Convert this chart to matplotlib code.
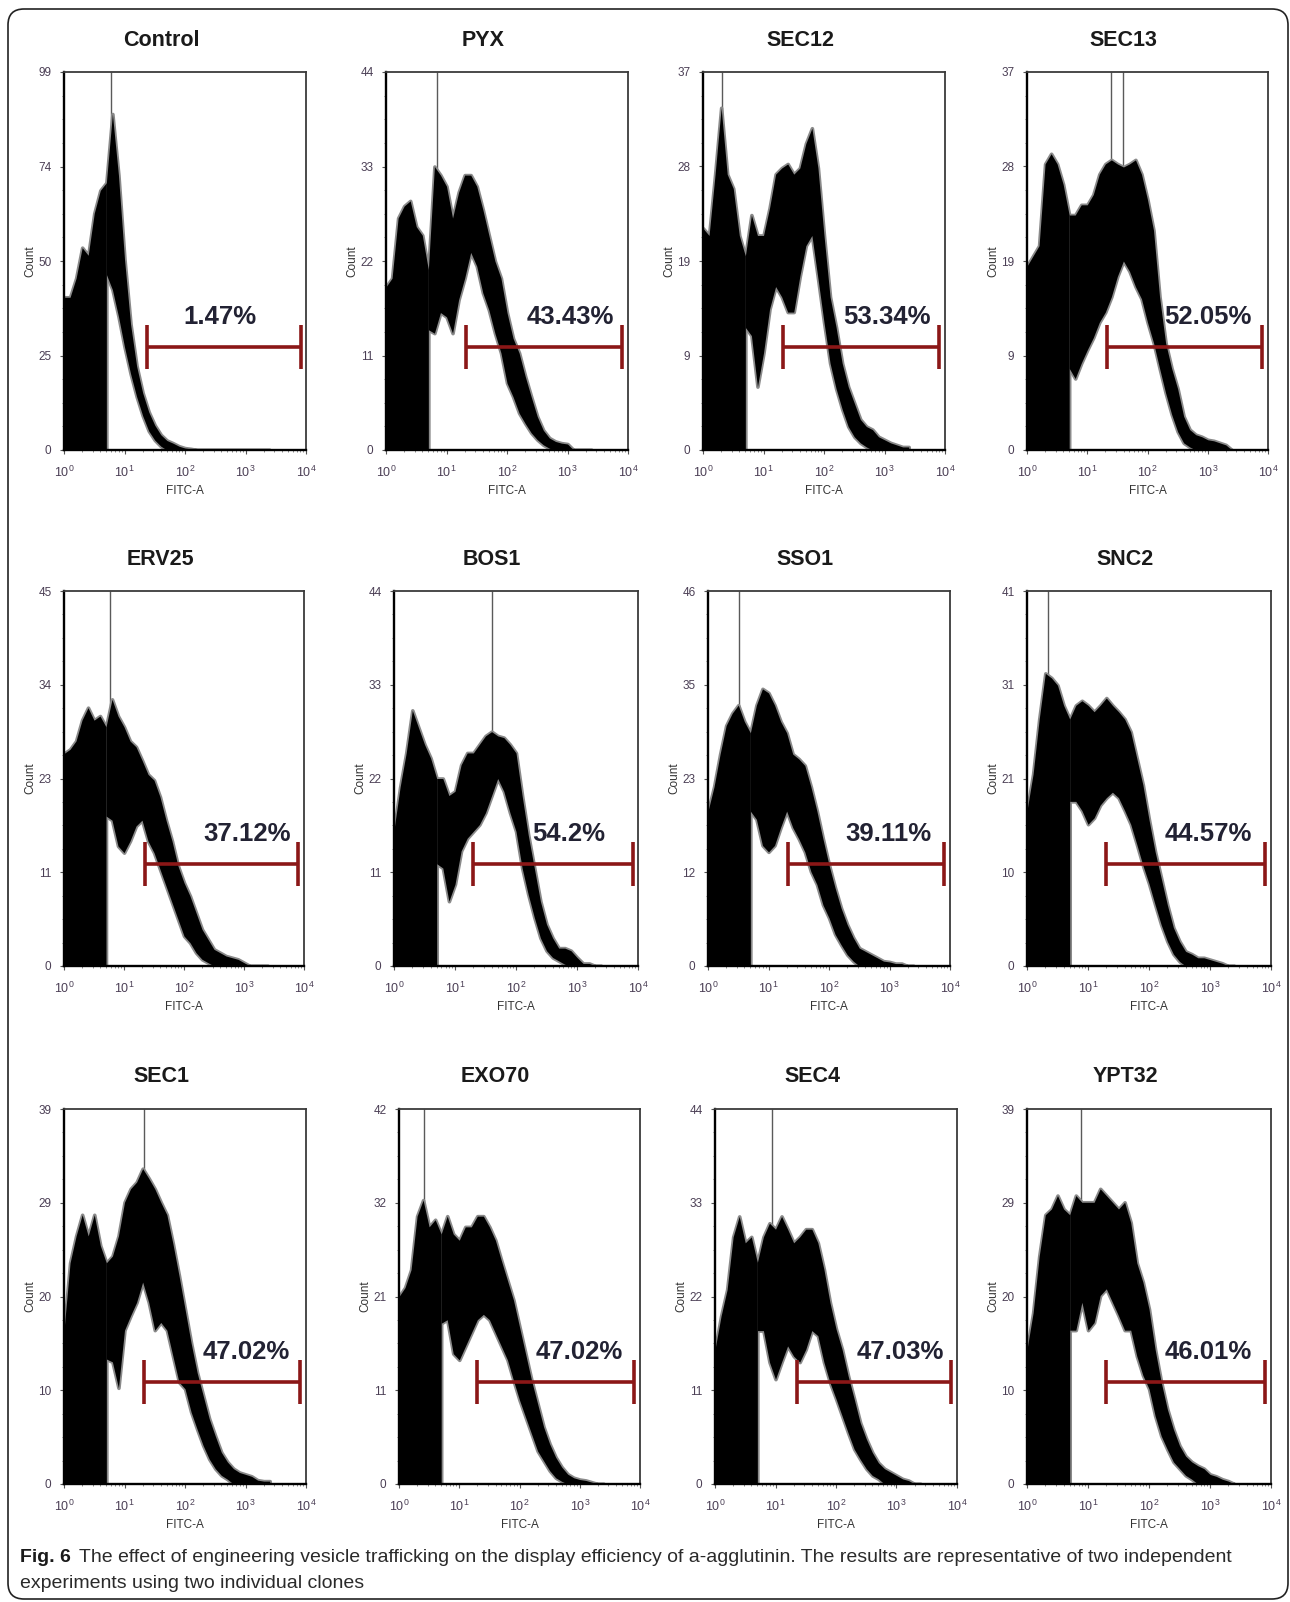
import numpy as np
import matplotlib
matplotlib.use("Agg")
import matplotlib.pyplot as plt
from matplotlib.patches import FancyBboxPatch
from matplotlib.ticker import LogLocator, AutoMinorLocator, FixedLocator, FixedFormatter

plt.rcParams['font.family'] = ['Liberation Sans', 'DejaVu Sans']
plt.rcParams['mathtext.default'] = 'regular'

# log10(FITC-A) grid the envelopes were read on
logx = np.arange(0, 35) / 10.0

names = ['Control', 'PYX', 'SEC12', 'SEC13',
         'ERV25', 'BOS1', 'SSO1', 'SNC2',
         'SEC1', 'EXO70', 'SEC4', 'YPT32']
pcts = ['1.47%', '43.43%', '53.34%', '52.05%',
        '37.12%', '54.2%', '39.11%', '44.57%',
        '47.02%', '47.02%', '47.03%', '46.01%']
ymax = [99, 44, 37, 37, 45, 44, 46, 41, 39, 42, 44, 39]
yticklabels = [['0', '25', '50', '74', '99'],
               ['0', '11', '22', '33', '44'],
               ['0', '9', '19', '28', '37'],
               ['0', '9', '19', '28', '37'],
               ['0', '11', '23', '34', '45'],
               ['0', '11', '22', '33', '44'],
               ['0', '12', '23', '35', '46'],
               ['0', '10', '21', '31', '41'],
               ['0', '10', '20', '29', '39'],
               ['0', '11', '21', '32', '42'],
               ['0', '11', '22', '33', '44'],
               ['0', '10', '20', '29', '39']]
# channel of the single tallest bin(s), log10
peak_log = [[0.78], [0.85], [0.32], [1.40, 1.60],
            [0.76], [1.60], [0.51], [0.34],
            [1.32], [0.42], [0.94], [0.89]]
gate_lo = [1.37, 1.33, 1.32, 1.32, 1.35, 1.29, 1.33, 1.30, 1.33, 1.30, 1.35, 1.30]
gate_hi = [3.92, 3.90, 3.90, 3.90, 3.90, 3.92, 3.90, 3.90, 3.90, 3.90, 3.90, 3.90]

# upper / lower edge of the black histogram trace (counts)
hi = {
    'Control': [40, 40, 45, 53, 51, 62, 68, 70, 88, 72, 50, 33, 22, 15, 10, 6.5, 4, 2.5, 1.8, 1,
                0.5, 0.3, 0, 0, 0, 0, 0, 0, 0, 0, 0, 0, 0, 0, 0],
    'PYX': [19, 20, 27, 28.4, 29, 26, 25, 21, 33, 32, 30.7, 27, 30, 32, 32, 30.7, 28, 25, 22, 20,
            16, 13, 11.3, 8.6, 6.2, 3.9, 2.3, 1.4, 1, 0.8, 0.7, 0, 0, 0, 0],
    'SEC12': [21.7, 21, 27, 33.5, 27, 25.6, 21, 19, 23, 21, 21, 23.7, 27, 27.6, 28, 27, 27.6, 30, 31.5, 27.6,
              21, 15, 12, 8.5, 6.2, 4.6, 3, 2.3, 2, 1.3, 1, 0.7, 0.5, 0.3, 0.3],
    'SEC13': [18, 19, 20, 28, 29, 28, 26, 23, 23, 24, 24, 25, 27, 28, 28.4, 28, 27.7, 28, 28.4, 27,
              24.5, 21.5, 15, 10.5, 8, 6, 3.3, 2, 1.5, 1.3, 1, 0.9, 0.7, 0.5, 0],
    'ERV25': [25.5, 26, 27, 29.5, 31, 29.5, 30, 28.7, 32, 30, 28.7, 27, 26.3, 24.7, 23, 22.3, 20.3, 17.5, 15, 12,
              10, 8.4, 6.4, 4.4, 3.2, 2, 1.6, 1.2, 1, 0.8, 0.4, 0, 0, 0, 0],
    'BOS1': [16, 21, 25, 30, 28, 26, 24.4, 22, 22, 20, 20.5, 23.6, 25, 25, 26, 27, 27.5, 27, 26.8, 26,
             25, 20, 15.4, 11.5, 7.6, 4.9, 3.3, 2.1, 2.1, 1.8, 1, 0.3, 0.3, 0, 0],
    'SSO1': [19, 22, 26, 29.5, 31, 32, 30, 28.6, 32, 34, 33.5, 32, 30, 28.6, 26, 25.4, 24.6, 22, 19, 15.6,
             12.4, 9.6, 7.1, 5.1, 3.5, 2.2, 1.8, 1.4, 1, 0.6, 0.5, 0.3, 0.3, 0, 0],
    'SNC2': [17, 21, 27, 32, 31.5, 30.7, 28.5, 27, 28.5, 29, 28.5, 27.8, 28.5, 29.3, 28.5, 27.8, 27, 25.6, 22.7, 19.8,
             16, 12.5, 9.6, 6.7, 4.2, 2.7, 1.6, 1.3, 0.9, 0.9, 0.7, 0.5, 0.3, 0, 0],
    'SEC1': [16, 23, 25.8, 28, 25.8, 28, 24.8, 23, 23.7, 25.8, 29.3, 30.7, 31.4, 32.8, 31.8, 30.7, 29.3, 28, 25, 21.7,
             18.2, 14.7, 11.6, 9.2, 6.8, 5, 3.3, 2.3, 1.6, 1.2, 1, 0.8, 0.4, 0.3, 0.3],
    'EXO70': [21, 22, 24, 30, 31.8, 28.8, 29.6, 28, 30, 28, 27.3, 28.8, 28.8, 30, 30, 28.8, 27.3, 25, 22.8, 20.6,
              17.6, 14.6, 11.6, 9, 6.4, 4.5, 3, 1.9, 1.1, 0.7, 0.5, 0.4, 0.2, 0, 0],
    'SEC4': [15.8, 19.7, 22.8, 29, 31.4, 28.3, 29, 26, 29, 30.6, 29.9, 31.4, 29.9, 28.3, 29, 29.9, 29.9, 28.3, 25.2, 21.3,
             18.2, 15.8, 12.7, 10, 7.2, 5.3, 3.7, 2.5, 1.8, 1.4, 1, 0.6, 0.4, 0, 0],
    'YPT32': [14, 17.8, 23.7, 28, 28.6, 30, 28.6, 28, 30, 29.3, 29.3, 29.3, 30.7, 30, 29.3, 28.6, 29.3, 27.2, 23, 21,
              18.2, 14, 10.6, 7.8, 5.7, 4, 2.9, 2.3, 1.9, 1.6, 1, 0.8, 0.5, 0.3, 0],
}
lo = {
    'Control': [0, 0, 0, 0, 0, 0, 0, 46, 42, 35, 27, 20, 14, 9, 5, 2.6, 1, 0, 0, 0,
                0, 0, 0, 0, 0, 0, 0, 0, 0, 0, 0, 0, 0, 0, 0],
    'PYX': [0, 0, 0, 0, 0, 0, 0, 14, 13.6, 16, 15.5, 13.6, 17.5, 20, 23, 21.4, 18.3, 16.3, 13.6, 11.3,
            7.8, 6.2, 4.3, 3.1, 2, 1.2, 0.6, 0.2, 0, 0, 0, 0, 0, 0, 0],
    'SEC12': [0, 0, 0, 0, 0, 0, 0, 12, 11.2, 6.2, 9.5, 13.8, 16, 15, 13.5, 13.5, 17, 20, 21, 16.8,
              12.5, 8.5, 6, 4, 2.3, 1.3, 0.7, 0.3, 0, 0, 0, 0, 0, 0, 0],
    'SEC13': [0, 0, 0, 0, 0, 0, 0, 8, 7, 8.5, 9.8, 11, 12.5, 13.5, 15, 17, 18.5, 17.5, 16, 14.8,
              12.5, 10.5, 8, 5.6, 3.5, 1.8, 0.7, 0.3, 0, 0, 0, 0, 0, 0, 0],
    'ERV25': [0, 0, 0, 0, 0, 0, 0, 18, 17.5, 14.4, 13.6, 15, 16.8, 17.5, 15, 13.6, 11.6, 9.6, 7.6, 5.6,
              3.6, 2.8, 1.6, 0.8, 0.4, 0, 0, 0, 0, 0, 0, 0, 0, 0, 0],
    'BOS1': [0, 0, 0, 0, 0, 0, 0, 12, 11.5, 7.6, 9.6, 13.5, 15, 15.8, 16.6, 18, 20, 22, 20.5, 18,
             15.8, 11.5, 8.4, 5.7, 3.3, 1.8, 1, 0.6, 0.2, 0, 0, 0, 0, 0, 0],
    'SSO1': [0, 0, 0, 0, 0, 0, 0, 19, 18, 14.8, 14, 14.8, 17, 19, 17, 15.6, 14, 11.6, 10, 7.5,
             5.9, 3.9, 2.6, 1.4, 0.6, 0, 0, 0, 0, 0, 0, 0, 0, 0, 0],
    'SNC2': [0, 0, 0, 0, 0, 0, 0, 18, 18, 17, 15.5, 16.2, 17.6, 18.4, 19, 18.4, 17, 15.5, 13.3, 11,
             9, 6.7, 4.5, 2.7, 1.3, 0.5, 0, 0, 0, 0, 0, 0, 0, 0, 0],
    'SEC1': [0, 0, 0, 0, 0, 0, 0, 13, 12.7, 10, 16, 17.5, 18.9, 21, 18.9, 16, 16.8, 16, 13.3, 10.6,
             9.9, 7.5, 5.7, 4, 2.6, 1.6, 0.9, 0.5, 0, 0, 0, 0, 0, 0, 0],
    'EXO70': [0, 0, 0, 0, 0, 0, 0, 18, 18.4, 14.6, 13.9, 15.4, 16.9, 18.4, 19, 18.4, 16.9, 15.4, 13.9, 11.6,
              9.4, 7.5, 5.6, 3.7, 2.6, 1.5, 0.7, 0.3, 0, 0, 0, 0, 0, 0, 0],
    'SEC4': [0, 0, 0, 0, 0, 0, 0, 18, 18, 14.3, 12.3, 14.3, 16.2, 15, 14.3, 15.8, 18, 17.4, 14.3, 11.9,
             10, 8, 6, 4.1, 2.9, 1.8, 1, 0.6, 0, 0, 0, 0, 0, 0, 0],
    'YPT32': [0, 0, 0, 0, 0, 0, 0, 16, 16, 18.9, 16, 16.8, 19.6, 20.3, 18.9, 17.5, 16, 16, 13.3, 11.3,
              9.9, 7.1, 5, 3.6, 2.3, 1.6, 0.9, 0.5, 0, 0, 0, 0, 0, 0, 0],
}

# layout (pixels of the 1290x1602 figure)
W, H = 1290, 1602
rows_y = [(72, 450), (591, 966), (1109, 1484)]
cols_x = [[(64, 306), (386, 628), (703, 945), (1027, 1268)],
          [(64, 304), (394, 638), (708, 950), (1027, 1271)],
          [(64, 306), (399, 640), (715, 957), (1027, 1271)]]
title_y = [41, 559, 1076]
pct_x = [2.57, 3.04, 3.04, 3.0, 3.06, 2.86, 2.99, 2.97, 3.02, 3.0, 3.07, 2.97]
tick_col = '#4b3f55'

fig = plt.figure(figsize=(W / 100, H / 100), dpi=100)

fig.patches.append(FancyBboxPatch((0.08, 0.03), 12.80, 15.90,
                                  boxstyle='round,pad=0,rounding_size=0.16',
                                  transform=fig.dpi_scale_trans, fill=False,
                                  edgecolor='#222222', linewidth=1.2))

x = 10 ** logx
solid = logx <= 0.7 + 1e-9
band = logx >= 0.7 - 1e-9

for i, name in enumerate(names):
    r, c = divmod(i, 4)
    x0, x1 = cols_x[r][c]
    y0, y1 = rows_y[r]
    ax = fig.add_axes([x0 / W, 1 - y1 / H, (x1 - x0) / W, (y1 - y0) / H])
    h = np.array(hi[name], dtype=float)
    l = np.array(lo[name], dtype=float)
    # grey fringe first, then the black trace on top
    ax.fill_between(x[solid], 0, h[solid], color='#808080', lw=2.6, edgecolor='#8a8a8a')
    ax.fill_between(x[band], l[band], h[band], color='#808080', lw=2.6, edgecolor='#8a8a8a')
    ax.fill_between(x[solid], 0, h[solid], color='black', lw=0)
    ax.fill_between(x[band], l[band], h[band], color='black', lw=0)
    for p in peak_log[i]:
        base = np.interp(p, logx, l)
        ax.vlines(10 ** p, base, ymax[i], color='#5a5a5a', lw=1.0, zorder=0.9)

    ax.set_xscale('log')
    ax.set_xlim(1, 1e4)
    ax.set_ylim(0, ymax[i])

    # gate
    g0, g1 = 10 ** gate_lo[i], 10 ** gate_hi[i]
    tr = ax.get_xaxis_transform()
    ax.plot([g0, g1], [0.272, 0.272], color='#8b1717', lw=2.6, transform=tr, solid_capstyle='butt')
    for g in (g0, g1):
        ax.plot([g, g], [0.214, 0.33], color='#8b1717', lw=2.6, transform=tr, solid_capstyle='butt')
    ax.text(10 ** pct_x[i], 0.352, pcts[i], transform=tr, ha='center', va='center',
            fontsize=18.5, fontweight='bold', color='#222233')

    ax.yaxis.set_major_locator(FixedLocator([ymax[i] * k / 4 for k in range(5)]))
    ax.yaxis.set_major_formatter(FixedFormatter(yticklabels[i]))
    ax.yaxis.set_minor_locator(AutoMinorLocator(4))
    ax.xaxis.set_major_locator(LogLocator(base=10, numticks=6))
    ax.xaxis.set_minor_locator(LogLocator(base=10, subs=np.arange(2, 10), numticks=20))
    ax.tick_params(axis='both', which='major', direction='out', length=3, width=0.8,
                   labelsize=9, labelcolor=tick_col, color='#555555')
    ax.tick_params(axis='both', which='minor', direction='out', length=1.5, width=0.6, color='#777777')
    ax.tick_params(axis='x', which='major', pad=8)
    ax.tick_params(axis='y', which='major', labelsize=8.5, pad=6)

    for s in ('left', 'bottom'):
        ax.spines[s].set_linewidth(1.7)
        ax.spines[s].set_color('black')
    for s in ('top', 'right'):
        ax.spines[s].set_linewidth(1.3)
        ax.spines[s].set_color('#3a3a3a')

    ax.set_xlabel('FITC-A', fontsize=8.5, color='#333333', labelpad=3)
    ax.set_ylabel('Count', fontsize=8.5, color='#333333')
    ax.yaxis.set_label_coords(-28 / (x1 - x0), 0.5)

    fig.text(((x0 + x1) / 2 - 24) / W, 1 - title_y[r] / H, name, ha='center', va='center',
             fontsize=15.5, fontweight='bold', color='#1a1a1a')

# caption
fig.canvas.draw()
rend = fig.canvas.get_renderer()
t0 = fig.text(20 / W, 1 - 1557 / H, 'Fig. 6', ha='left', va='center', fontsize=14,
              fontweight='bold', color='#1a1a1a')
bb = t0.get_window_extent(rend)
fig.text((bb.x1 + 8) / W, 1 - 1557 / H,
         'The effect of engineering vesicle trafficking on the display efficiency of a-agglutinin. '
         'The results are representative of two independent',
         ha='left', va='center', fontsize=14, color='#2a2a2a')
fig.text(20 / W, 1 - 1583 / H, 'experiments using two individual clones',
         ha='left', va='center', fontsize=14, color='#2a2a2a')

fig.savefig('out.png', dpi=100)
